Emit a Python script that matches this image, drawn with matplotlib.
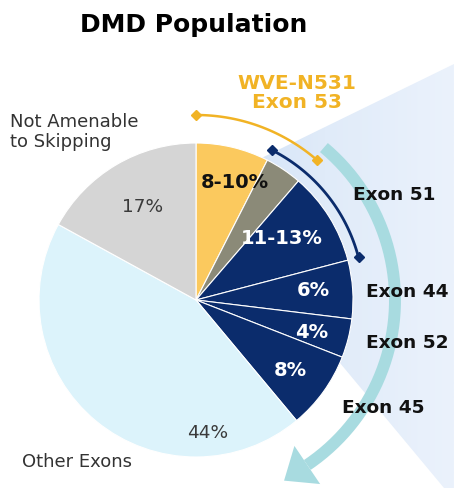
import numpy as np
import matplotlib
matplotlib.use("Agg")
import matplotlib.pyplot as plt
from matplotlib.patches import Polygon
from matplotlib.colors import LinearSegmentedColormap

# ---------------- data ----------------
categories = ["Exon 53", "Exon 51/53", "Exon 51", "Exon 44", "Exon 52", "Exon 45",
              "Other Exons", "Not Amenable to Skipping"]
values = [7.5, 3.8, 9.6, 6.0, 4.0, 8.0, 44.0, 17.0]
pct_labels = ["8-10%", "", "11-13%", "6%", "4%", "8%", "44%", "17%"]
colors = ["#fbc95e", "#8b8a78", "#0b2c6c", "#0b2c6c", "#0b2c6c", "#0b2c6c",
          "#dcf3fb", "#d5d5d5"]
exon_labels = ["Exon 51", "Exon 44", "Exon 52", "Exon 45"]

W, H = 454, 488
CX, CY, R = 196, 300, 157

fig = plt.figure(figsize=(W / 100, H / 100), dpi=100)
ax = fig.add_axes([0, 0, 1, 1])


def pt(phi, r):
    p = np.radians(phi)
    return CX + r * np.sin(p), CY - r * np.cos(p)


# ---------------- background fan with gradient ----------------
fan = Polygon([(196, 190), (454, 64), (454, 500)], closed=True,
              facecolor="none", edgecolor="none")
ax.add_patch(fan)
cmap = LinearSegmentedColormap.from_list("fan", ["#cee0f7", "#e0ebf9", "#ebf2fc"])
grad = np.linspace(0, 1, 256).reshape(1, -1)
im = ax.imshow(grad, extent=[196, 454, 500, 60], cmap=cmap, aspect="auto",
               zorder=0, interpolation="bilinear")
im.set_clip_path(fan)

# ---------------- pie ----------------
wedges, _ = ax.pie(values, colors=colors, startangle=-90, counterclock=True,
                   center=(CX, CY), radius=R,
                   wedgeprops=dict(edgecolor="white", linewidth=0.8))
for w in wedges:
    w.set_zorder(2)

bounds = 360 * np.cumsum(values) / np.sum(values)
starts = np.concatenate([[0], bounds[:-1]])

# ---------------- percentage labels ----------------
lab_pos = {0: (235, 182), 2: (282, 238), 3: (313, 290), 4: (312, 332),
           5: (290, 370), 6: (208, 433), 7: (143, 207)}
for i, txt in enumerate(pct_labels):
    if not txt:
        continue
    x, y = lab_pos[i]
    if colors[i] == "#0b2c6c":
        ax.text(x, y, txt, color="white", fontsize=14, fontweight="bold",
                ha="center", va="center", zorder=5)
    elif i == 0:
        ax.text(x, y, txt, color="#111111", fontsize=14, fontweight="bold",
                ha="center", va="center", zorder=5)
    else:
        ax.text(x, y, txt, color="#3a3a3a", fontsize=13.3, ha="center",
                va="center", zorder=5)

# ---------------- exon labels ----------------
exon_pos = [(394, 195), (407, 292), (407, 343), (383, 408)]
for (x, y), txt in zip(exon_pos, exon_labels):
    ax.text(x, y, txt, color="#111111", fontsize=13.3, fontweight="bold",
            ha="center", va="center", zorder=6)

# ---------------- teal arrow ----------------
TEAL = "#a8dbe0"
phis = np.linspace(40, 146, 200)
xs, ys = pt(phis, 199)
ax.plot(xs, ys, color=TEAL, lw=8.6, solid_capstyle="butt", zorder=3)
bx, by = pt(146, 199)
ph = np.radians(146)
tx, ty = np.cos(ph), np.sin(ph)
nx, ny = np.sin(ph), -np.cos(ph)
head = Polygon([(bx + 23 * nx, by + 23 * ny), (bx + 28 * tx, by + 28 * ty),
                (bx - 23 * nx, by - 23 * ny)], closed=True,
               facecolor=TEAL, edgecolor="none", zorder=3)
ax.add_patch(head)

# ---------------- navy bracket arc (Exon 51) ----------------
NAVY = "#0b2c6c"
phis = np.linspace(starts[1], bounds[2], 100)
xs, ys = pt(phis, 168)
ax.plot(xs, ys, color=NAVY, lw=2, zorder=4)
ax.plot([xs[0], xs[-1]], [ys[0], ys[-1]], ls="none", marker="D", ms=5.5,
        color=NAVY, zorder=4)

# ---------------- orange bracket arc (Exon 53) ----------------
GOLD = "#f1b325"
phis = np.linspace(0, bounds[1], 100)
xs, ys = pt(phis, 185)
ax.plot(xs, ys, color=GOLD, lw=1.8, zorder=4)
ax.plot([xs[0], xs[-1]], [ys[0], ys[-1]], ls="none", marker="D", ms=5.5,
        color=GOLD, zorder=4)
ax.text(297, 93, "WVE-N531\nExon 53", color=GOLD, fontsize=14.5,
        fontweight="bold", ha="center", va="center", linespacing=1.05, zorder=6)

# ---------------- other texts ----------------
ax.text(194, 25, "DMD Population", color="#000000", fontsize=18,
        fontweight="bold", ha="center", va="center")
ax.text(10, 132, "Not Amenable\nto Skipping", color="#333333", fontsize=13,
        ha="left", va="center", linespacing=1.15)
ax.text(22, 462, "Other Exons", color="#333333", fontsize=13, ha="left",
        va="center")

ax.set_xlim(0, W)
ax.set_ylim(H, 0)
ax.set_aspect("auto")
ax.axis("off")
fig.savefig("out.png", dpi=100, facecolor="white")
